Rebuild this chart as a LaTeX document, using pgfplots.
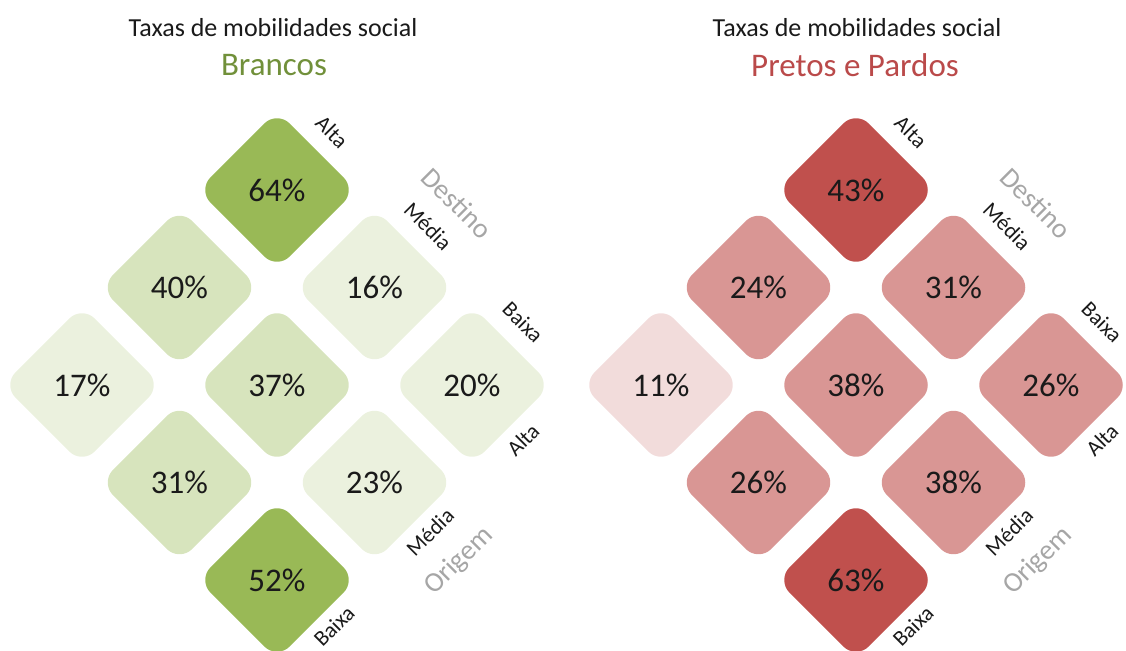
\documentclass[border=0pt]{standalone}
\usepackage{pgfplots}
\usepackage{pgfplotstable}
\pgfplotsset{compat=1.18}
\usepackage{fontspec}
\setmainfont{Carlito}

\definecolor{gA}{HTML}{99B956}
\definecolor{gB}{HTML}{D7E4BD}
\definecolor{gC}{HTML}{EBF1DE}
\definecolor{rA}{HTML}{C0504D}
\definecolor{rB}{HTML}{D99694}
\definecolor{rC}{HTML}{F2DCDB}
\definecolor{gT}{HTML}{71903A}
\definecolor{rT}{HTML}{BA4A4A}
\definecolor{lab}{HTML}{A6A6A6}
\definecolor{txt}{HTML}{1A1A1A}

\pgfdeclareplotmark{rdia}{%
  \pgfsetcornersarced{\pgfpoint{9pt}{9pt}}%
  \pgfpathmoveto{\pgfpoint{0.5\pgfplotmarksize}{0.5\pgfplotmarksize}}%
  \pgfpathlineto{\pgfpoint{0pt}{\pgfplotmarksize}}%
  \pgfpathlineto{\pgfpoint{-\pgfplotmarksize}{0pt}}%
  \pgfpathlineto{\pgfpoint{0pt}{-\pgfplotmarksize}}%
  \pgfpathlineto{\pgfpoint{\pgfplotmarksize}{0pt}}%
  \pgfpathlineto{\pgfpoint{0.5\pgfplotmarksize}{0.5\pgfplotmarksize}}%
  \pgfusepath{fill}%
}

% o: origem (1 Alta, 0 Media, -1 Baixa); d: destino (1 Alta, 0 Media, -1 Baixa)
% c: shade class (1 dark, 2 medium, 3 light)
\pgfplotstableread{
o d v c
1 1 64 1
1 0 16 3
1 -1 20 3
0 1 40 2
0 0 37 2
0 -1 23 3
-1 1 17 3
-1 0 31 2
-1 -1 52 1
}\brancos

\pgfplotstableread{
o d v c
1 1 43 1
1 0 31 2
1 -1 26 2
0 1 24 2
0 0 38 2
0 -1 38 2
-1 1 11 3
-1 0 26 2
-1 -1 63 1
}\pretos

\newcommand{\axlabels}[1]{%
  \node[rotate=-45,font=\fontsize{11}{11}\selectfont,text=txt] at (axis cs:{332+#1},518) {Alta};
  \node[rotate=-45,font=\fontsize{14}{14}\selectfont,text=lab] at (axis cs:{457+#1},447) {Destino};
  \node[rotate=-45,font=\fontsize{11}{11}\selectfont,text=txt] at (axis cs:{428+#1},424) {Média};
  \node[rotate=-45,font=\fontsize{11}{11}\selectfont,text=txt] at (axis cs:{523+#1},328) {Baixa};
  \node[rotate=45,font=\fontsize{11}{11}\selectfont,text=txt] at (axis cs:{523+#1},210) {Alta};
  \node[rotate=45,font=\fontsize{11}{11}\selectfont,text=txt] at (axis cs:{430+#1},118) {Média};
  \node[rotate=45,font=\fontsize{14}{14}\selectfont,text=lab] at (axis cs:{459+#1},89) {Origem};
  \node[rotate=45,font=\fontsize{11}{11}\selectfont,text=txt] at (axis cs:{334+#1},24) {Baixa};
}

\pgfplotsset{
  cell/.style={only marks, mark=rdia, mark size=39.6pt, color=#1,
    point meta=explicit symbolic, nodes near coords={\pgfplotspointmeta\%}},
}

\begin{document}
\begin{tikzpicture}
\begin{axis}[
  x=0.5pt, y=0.5pt, xmin=0, xmax=1126, ymin=0, ymax=650,
  scale only axis, hide axis, clip=false,
  every node near coord/.append style={anchor=center, font=\fontsize{16.5}{16.5}\selectfont, text=txt},
]
\addplot[cell=gA] table[x expr={277+97.5*(\thisrow{o}-\thisrow{d})}, y expr={265+97.5*(\thisrow{o}+\thisrow{d})}, meta=v, restrict expr to domain={\thisrow{c}}{1:1}] {\brancos};
\addplot[cell=gB] table[x expr={277+97.5*(\thisrow{o}-\thisrow{d})}, y expr={265+97.5*(\thisrow{o}+\thisrow{d})}, meta=v, restrict expr to domain={\thisrow{c}}{2:2}] {\brancos};
\addplot[cell=gC] table[x expr={277+97.5*(\thisrow{o}-\thisrow{d})}, y expr={265+97.5*(\thisrow{o}+\thisrow{d})}, meta=v, restrict expr to domain={\thisrow{c}}{3:3}] {\brancos};
\addplot[cell=rA] table[x expr={856+97.5*(\thisrow{o}-\thisrow{d})}, y expr={265+97.5*(\thisrow{o}+\thisrow{d})}, meta=v, restrict expr to domain={\thisrow{c}}{1:1}] {\pretos};
\addplot[cell=rB] table[x expr={856+97.5*(\thisrow{o}-\thisrow{d})}, y expr={265+97.5*(\thisrow{o}+\thisrow{d})}, meta=v, restrict expr to domain={\thisrow{c}}{2:2}] {\pretos};
\addplot[cell=rC] table[x expr={856+97.5*(\thisrow{o}-\thisrow{d})}, y expr={265+97.5*(\thisrow{o}+\thisrow{d})}, meta=v, restrict expr to domain={\thisrow{c}}{3:3}] {\pretos};
\axlabels{0}
\axlabels{579}
\node[font=\fontsize{13}{13}\selectfont,text=txt] at (axis cs:273,622) {Taxas de mobilidades social};
\node[font=\fontsize{16.5}{16.5}\selectfont,text=gT] at (axis cs:274,585) {Brancos};
\node[font=\fontsize{13}{13}\selectfont,text=txt] at (axis cs:857,622) {Taxas de mobilidades social};
\node[font=\fontsize{16.5}{16.5}\selectfont,text=rT] at (axis cs:855,585) {Pretos e Pardos};
\end{axis}
\pgfresetboundingbox
\path[use as bounding box] (current axis.south west) rectangle (current axis.north east);
\end{tikzpicture}
\end{document}
